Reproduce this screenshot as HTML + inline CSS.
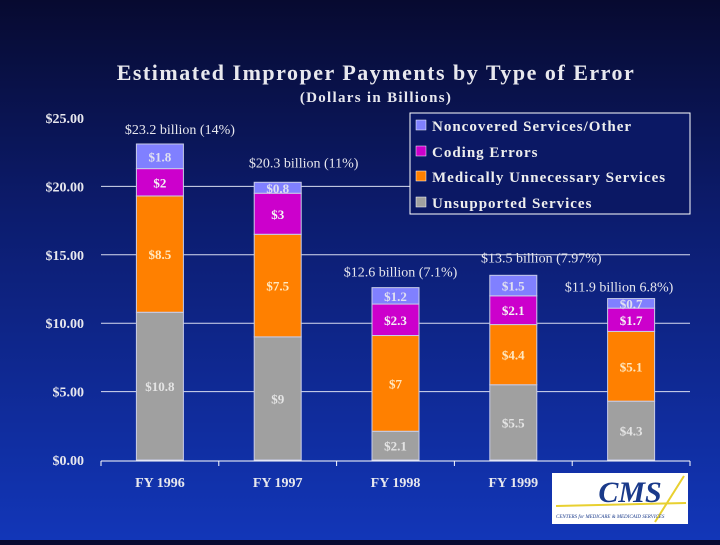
<!DOCTYPE html>
<html><head><meta charset="utf-8"><style>
html,body{margin:0;padding:0}
body{width:720px;height:540px;overflow:hidden;background:linear-gradient(#070a30 0%,#0c1c6e 40%,#1236b8 100%);font-family:"Liberation Serif",serif}
svg text{font-family:"Liberation Serif",serif}
</style></head><body>
<svg id="c" width="720" height="540">
<text x="376" y="80" text-anchor="middle" font-size="22" font-weight="bold" fill="#e8e8ee" letter-spacing="1.5">Estimated Improper Payments by Type of Error</text>
<text x="376" y="102" text-anchor="middle" font-size="15" font-weight="bold" fill="#e8e8ee" letter-spacing="1.3">(Dollars in Billions)</text>
<g id="grid"></g><g id="bars"></g>
<g>
<rect x="410" y="113" width="280" height="101" fill="#0b1864" stroke="#fff" stroke-width="1"/>
<rect x="416" y="120" width="10" height="10" fill="#8080ff" stroke="#fff" stroke-width="0.5"/><text x="432" y="131" font-size="15" font-weight="bold" fill="#eee" letter-spacing="1">Noncovered Services/Other</text>
<rect x="416" y="146" width="10" height="10" fill="#cc00cc" stroke="#fff" stroke-width="0.5"/><text x="432" y="157" font-size="15" font-weight="bold" fill="#eee" letter-spacing="1">Coding Errors</text>
<rect x="416" y="171" width="10" height="10" fill="#ff8000" stroke="#fff" stroke-width="0.5"/><text x="432" y="182" font-size="15" font-weight="bold" fill="#eee" letter-spacing="1">Medically Unnecessary Services</text>
<rect x="416" y="197" width="10" height="10" fill="#a0a0a0" stroke="#fff" stroke-width="0.5"/><text x="432" y="208" font-size="15" font-weight="bold" fill="#eee" letter-spacing="1">Unsupported Services</text>
</g>
<g>
<rect x="552" y="473" width="136" height="51" fill="#fff"/>
<text x="630" y="502" text-anchor="middle" font-family="Liberation Sans" font-size="30" font-weight="bold" font-style="italic" fill="#1a3a8a">CMS</text>
<line x1="556" y1="506" x2="686" y2="503" stroke="#e8d030" stroke-width="2"/>
<line x1="684" y1="476" x2="655" y2="522" stroke="#e8d030" stroke-width="2"/>
<text x="556" y="518" font-family="Liberation Sans" font-size="5" font-style="italic" fill="#1a3a8a">CENTERS for MEDICARE &amp; MEDICAID SERVICES</text>
</g>
</svg>
<script>
const categories=["FY 1996","FY 1997","FY 1998","FY 1999","FY 2000"];
const unsupported=[10.8,9,2.1,5.5,4.3];
const medically=[8.5,7.5,7,4.4,5.1];
const coding=[2,3,2.3,2.1,1.7];
const noncovered=[1.8,0.8,1.2,1.5,0.7];
const totalLabels=["$23.2 billion  (14%)","$20.3 billion (11%)","$12.6 billion (7.1%)","$13.5 billion (7.97%)","$11.9 billion 6.8%)"];
const yTicks=[0,5,10,15,20,25];
const NS="http://www.w3.org/2000/svg";
const x0=101,x1=690,y0=460,yTop=118;
const y=v=>y0-(v/25)*(y0-yTop);
const band=(x1-x0)/categories.length;
const xc=i=>x0+band*(i+0.5);
const bw=47;
const labelDx=[20,26,5,28,-12];
const labelDy=[10,15,11,13,7];
function mk(t,a,p){const e=document.createElementNS(NS,t);for(const k in a)e.setAttribute(k,a[k]);p.appendChild(e);return e;}
const grid=document.getElementById('grid'),bars=document.getElementById('bars');
yTicks.forEach(v=>{
 if(v>0&&v<25){const l=mk('line',{x1:x0,x2:x1,y1:y(v),y2:y(v),stroke:'#d8dcf0','stroke-width':1},grid);
 
 }
 const t=mk('text',{x:84,y:y(v)+5,'text-anchor':'end','font-size':14,'font-weight':'bold',fill:'#e8e8ee'},grid);
 t.textContent='$'+v.toFixed(2);
 
 
});
const ax=mk('line',{x1:x0,x2:x1,y1:y0+1,y2:y0+1,stroke:'#fff','stroke-width':1},grid);


for(let i=0;i<=categories.length;i++){mk('line',{x1:x0+band*i,x2:x0+band*i,y1:y0+1,y2:y0+6,stroke:'#fff'},grid);}
const series=[[unsupported,'#a0a0a0','#e4e4e4','unsupported'],[medically,'#ff8000','#ffe8c0','medically'],[coding,'#cc00cc','#f4f4f4','coding'],[noncovered,'#8080ff','#e0e0f0','noncovered']];
categories.forEach((c,i)=>{
 let base=0;
 series.forEach(([arr,col,tc,nm])=>{
  const v=arr[i];
  const r=mk('rect',{x:xc(i)-bw/2,y:y(base+v),width:bw,height:y(base)-y(base+v),fill:col,stroke:'#c8cce8','stroke-width':1},bars);
  
  
  const t=mk('text',{x:xc(i),y:(y(base)+y(base+v))/2+5,'text-anchor':'middle','font-size':13,'font-weight':'bold',fill:tc},bars);
  t.textContent='$'+v;
  
  
  base+=v;
 });
 const tl=mk('text',{x:xc(i)+labelDx[i],y:y(base)-labelDy[i],'text-anchor':'middle','font-size':14,fill:'#e8e8ee'},bars);
 tl.textContent=totalLabels[i];
 
 
 const xl=mk('text',{x:xc(i),y:487,'text-anchor':'middle','font-size':14,'font-weight':'bold',fill:'#e8e8ee'},bars);
 xl.textContent=c;
 
 
});
</script>
</body></html>
